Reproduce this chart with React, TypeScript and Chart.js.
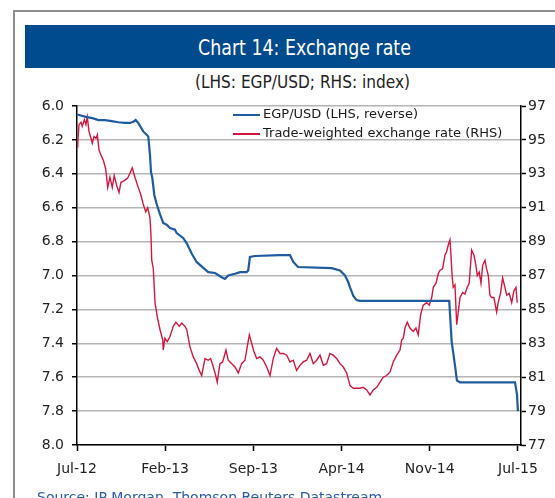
import React, { useEffect, useRef } from "react";
import { Chart, registerables } from "chart.js";

Chart.register(...registerables);

// x positions are months since Jul-12 (0 .. 36 = Jul-15)
const xTickLabels = ["Jul-12", "Feb-13", "Sep-13", "Apr-14", "Nov-14", "Jul-15"];
const xTickPositions = [0, 7.2, 14.4, 21.6, 28.8, 36];

const leftTicksMin = 6.0;
const leftTicksMax = 8.0;
const rightTicksMin = 77;
const rightTicksMax = 97;

const seriesNames = ["EGP/USD (LHS, reverse)", "Trade-weighted exchange rate (RHS)"];

const egpX = [0, 0.65, 1.33, 1.74, 2.29, 2.83, 3.37, 3.92, 4.33, 4.6, 4.79, 5.0, 5.41, 5.69, 5.82, 5.96, 6.04, 6.15, 6.31, 6.51, 6.78, 7.04, 7.32, 7.59, 8.0, 8.14, 8.68, 8.96, 9.36, 9.77, 10.31, 10.72, 11.27, 11.81, 12.08, 12.35, 12.9, 13.31, 13.85, 13.98, 14.12, 14.53, 16.57, 17.39, 17.66, 18.04, 20.79, 21.47, 21.88, 22.15, 22.29, 22.56, 22.83, 23.1, 30.39, 30.59, 30.86, 31.02, 31.27, 35.76, 35.92, 36.0];
const egpY = [6.05, 6.063, 6.073, 6.083, 6.083, 6.089, 6.096, 6.1, 6.1, 6.093, 6.083, 6.1, 6.15, 6.17, 6.18, 6.29, 6.39, 6.425, 6.525, 6.58, 6.64, 6.69, 6.7, 6.72, 6.73, 6.75, 6.78, 6.81, 6.87, 6.92, 6.955, 6.98, 6.985, 7.01, 7.02, 7.0, 6.99, 6.98, 6.98, 6.97, 6.89, 6.885, 6.88, 6.88, 6.92, 6.95, 6.957, 6.97, 7.0, 7.04, 7.07, 7.12, 7.145, 7.15, 7.15, 7.39, 7.53, 7.62, 7.63, 7.63, 7.7, 7.8];

const twX = [0, 0.06, 0.16, 0.33, 0.43, 0.6, 0.73, 0.84, 0.98, 1.14, 1.25, 1.39, 1.55, 1.66, 1.8, 1.96, 2.15, 2.34, 2.51, 2.69, 2.88, 3.04, 3.24, 3.43, 3.59, 3.86, 4.14, 4.33, 4.51, 4.73, 5.0, 5.22, 5.41, 5.61, 5.77, 5.96, 6.04, 6.1, 6.23, 6.37, 6.56, 6.78, 7.0, 7.04, 7.18, 7.37, 7.59, 7.86, 8.08, 8.35, 8.55, 8.82, 8.96, 9.22, 9.49, 9.77, 9.98, 10.18, 10.45, 10.72, 10.91, 11.13, 11.27, 11.45, 11.67, 11.89, 12.16, 12.35, 12.63, 12.9, 13.17, 13.44, 13.71, 13.9, 14.07, 14.26, 14.45, 14.67, 14.94, 15.21, 15.49, 15.76, 16.02, 16.3, 16.57, 16.84, 17.12, 17.39, 17.66, 17.93, 18.2, 18.47, 18.75, 19.02, 19.29, 19.57, 19.84, 20.11, 20.38, 20.65, 20.92, 21.2, 21.47, 21.74, 22.02, 22.29, 22.56, 22.83, 23.1, 23.37, 23.65, 23.92, 24.19, 24.47, 24.73, 25.0, 25.28, 25.55, 25.82, 26.1, 26.37, 26.51, 26.64, 26.78, 26.96, 27.18, 27.45, 27.67, 27.86, 28.06, 28.27, 28.55, 28.76, 28.96, 29.09, 29.31, 29.49, 29.63, 29.85, 30.04, 30.18, 30.31, 30.45, 30.53, 30.64, 30.72, 30.86, 31.0, 31.13, 31.27, 31.49, 31.67, 31.86, 32.02, 32.22, 32.41, 32.57, 32.68, 32.84, 32.98, 33.12, 33.31, 33.44, 33.58, 33.71, 33.85, 34.04, 34.26, 34.39, 34.59, 34.75, 34.94, 35.08, 35.29, 35.49, 35.67, 35.84, 35.94];
const twY = [94.6, 94.7, 95.9, 96.05, 95.8, 96.2, 95.9, 96.35, 95.5, 95.1, 94.8, 95.2, 95.1, 95.3, 94.4, 94.1, 93.8, 93.3, 92.2, 92.8, 92.2, 92.9, 92.3, 91.9, 92.5, 92.6, 92.75, 93.05, 93.35, 92.8, 92.2, 91.75, 91.2, 90.75, 91.0, 90.4, 89.4, 87.9, 87.4, 85.4, 84.55, 83.8, 83.2, 82.6, 83.3, 83.1, 83.4, 84.0, 84.25, 84.0, 84.2, 84.0, 83.8, 82.8, 82.2, 81.8, 81.4, 81.1, 82.1, 82.0, 82.1, 81.6, 81.25, 80.7, 81.8, 81.9, 82.6, 82.0, 81.8, 81.6, 81.25, 81.8, 82.0, 82.8, 83.5, 83.0, 82.5, 82.1, 82.2, 82.0, 81.6, 81.1, 82.1, 82.7, 82.4, 82.4, 82.3, 81.9, 82.0, 81.4, 81.7, 81.9, 82.0, 82.4, 81.8, 82.0, 82.3, 81.7, 81.8, 82.4, 82.3, 82.1, 81.8, 81.6, 81.25, 80.5, 80.35, 80.35, 80.35, 80.4, 80.25, 79.95, 80.25, 80.4, 80.7, 81.0, 81.1, 81.3, 81.9, 82.3, 82.6, 83.2, 83.3, 83.9, 84.25, 83.9, 83.7, 83.9, 83.5, 84.7, 85.25, 85.4, 85.25, 85.7, 86.3, 86.55, 87.1, 87.3, 87.4, 88.2, 88.4, 88.8, 89.1, 88.2, 86.85, 86.3, 86.45, 84.1, 84.85, 85.7, 86.0, 85.9, 86.3, 86.55, 88.5, 88.2, 87.6, 87.0, 87.2, 86.55, 87.6, 87.9, 87.4, 87.0, 85.85, 85.7, 85.7, 84.85, 85.4, 86.0, 86.85, 86.3, 85.85, 85.95, 85.4, 86.1, 86.3, 85.4];

const BLUE = "#1f5c9f";
const RED = "#d5173f";
const TICK_FONT = { family: "'DejaVu Sans', sans-serif", size: 14 };
const TICK_COLOR = "#222222";

const legendPlugin = {
  id: "insideLegend",
  afterDatasetsDraw(chart: any) {
    const { ctx, chartArea } = chart;
    const x0 = chartArea.left + 156;
    const rows = [
      { y: chartArea.top + 9, color: BLUE, w: 2, text: seriesNames[0] },
      { y: chartArea.top + 28, color: RED, w: 2, text: seriesNames[1] },
    ];
    ctx.save();
    ctx.font = "13px 'DejaVu Sans', sans-serif";
    ctx.textBaseline = "middle";
    ctx.textAlign = "left";
    rows.forEach((r) => {
      ctx.strokeStyle = r.color;
      ctx.lineWidth = r.w;
      ctx.beginPath();
      ctx.moveTo(x0, r.y);
      ctx.lineTo(x0 + 27, r.y);
      ctx.stroke();
      ctx.fillStyle = "#1a1a1a";
      ctx.fillText(r.text, x0 + 30, r.y);
    });
    ctx.restore();
  },
};

export default function App() {
  const canvasRef = useRef<HTMLCanvasElement | null>(null);

  useEffect(() => {
    document.body.style.margin = "0";
    const canvas = canvasRef.current;
    if (!canvas) return;
    const chart = new Chart(canvas, {
      type: "line",
      data: {
        datasets: [
          {
            label: seriesNames[0],
            data: egpX.map((x, i) => ({ x, y: egpY[i] })),
            borderColor: BLUE,
            borderWidth: 2.2,
            pointRadius: 0,
            tension: 0,
            yAxisID: "y",
          },
          {
            label: seriesNames[1],
            data: twX.map((x, i) => ({ x, y: twY[i] })),
            borderColor: RED,
            borderWidth: 1.4,
            pointRadius: 0,
            tension: 0,
            yAxisID: "y1",
          },
        ],
      },
      options: {
        animation: false,
        responsive: false,
        devicePixelRatio: 1,
        layout: { padding: { top: 106, bottom: 21, left: 0, right: 0 } },
        plugins: { legend: { display: false }, tooltip: { enabled: false }, title: { display: false } },
        scales: {
          x: {
            type: "linear",
            min: 0,
            max: 36.25,
            afterBuildTicks: (s: any) => {
              s.ticks = xTickPositions.map((v) => ({ value: v }));
            },
            afterFit: (s: any) => {
              s.height = 32;
            },
            ticks: {
              autoSkip: false,
              maxRotation: 0,
              padding: 10,
              font: TICK_FONT,
              color: TICK_COLOR,
              callback: (_v: any, i: number) => xTickLabels[i],
            },
            grid: { drawOnChartArea: false, tickLength: 6, tickColor: "#000", tickWidth: 1.5 },
            border: { color: "#000", width: 1.5 },
          },
          y: {
            position: "left",
            reverse: true,
            min: leftTicksMin,
            max: leftTicksMax,
            afterFit: (s: any) => {
              s.width = 77;
            },
            ticks: {
              stepSize: 0.2,
              padding: 8,
              font: TICK_FONT,
              color: TICK_COLOR,
              callback: (v: any) => Number(v).toFixed(1),
            },
            grid: { color: "#b5b5b5", lineWidth: 1.5, tickLength: 5, tickColor: "#000", tickWidth: 1.5 },
            border: { color: "#000", width: 1.5 },
          },
          y1: {
            position: "right",
            min: rightTicksMin,
            max: rightTicksMax,
            afterFit: (s: any) => {
              s.width = 34;
            },
            ticks: {
              stepSize: 2,
              padding: 2,
              font: TICK_FONT,
              color: TICK_COLOR,
            },
            grid: { drawOnChartArea: false, tickLength: 5, tickColor: "#000", tickWidth: 1.5 },
            border: { color: "#000", width: 1.5 },
          },
        },
      },
      plugins: [legendPlugin],
    } as any);
    return () => chart.destroy();
  }, []);

  const narrow = "'Liberation Sans Narrow', 'DejaVu Sans Condensed', sans-serif";

  return (
    <div style={{ position: "relative", width: 555, height: 498, overflow: "hidden", background: "#fff" }}>
      <div
        style={{
          position: "absolute",
          left: 13,
          top: 10,
          width: 700,
          height: 700,
          borderLeft: "2px solid #8e8e8e",
          borderTop: "2px solid #8e8e8e",
        }}
      />
      <div style={{ position: "absolute", left: 25, top: 25, width: 600, height: 43, background: "#004b8d" }} />
      <div
        style={{
          position: "absolute",
          left: 0,
          top: 36.6,
          width: 609,
          height: 22,
          lineHeight: "21.5px",
          textAlign: "center",
          color: "#fff",
          fontFamily: narrow,
          fontSize: 21.5,
          transform: "scaleX(0.9)",
          transformOrigin: "304.5px 0",
          whiteSpace: "nowrap",
        }}
      >
        Chart 14: Exchange rate
      </div>
      <div
        style={{
          position: "absolute",
          left: 0,
          top: 72.9,
          width: 605,
          height: 19,
          lineHeight: "18.3px",
          textAlign: "center",
          color: "#222",
          fontFamily: narrow,
          fontSize: 18.3,
          transform: "scaleX(0.935)",
          transformOrigin: "302.5px 0",
          whiteSpace: "nowrap",
        }}
      >
        (LHS: EGP/USD; RHS: index)
      </div>
      <canvas
        ref={canvasRef}
        width={555}
        height={498}
        style={{ position: "absolute", left: 0, top: 0, width: 555, height: 498 }}
      />
      <div
        style={{
          position: "absolute",
          left: 37,
          top: 488,
          whiteSpace: "nowrap",
          lineHeight: "18px",
          color: "#2a5ba8",
          fontFamily: "'DejaVu Sans', sans-serif",
          fontSize: 14,
        }}
      >
        Source: JP Morgan, Thomson Reuters Datastream
      </div>
    </div>
  );
}
